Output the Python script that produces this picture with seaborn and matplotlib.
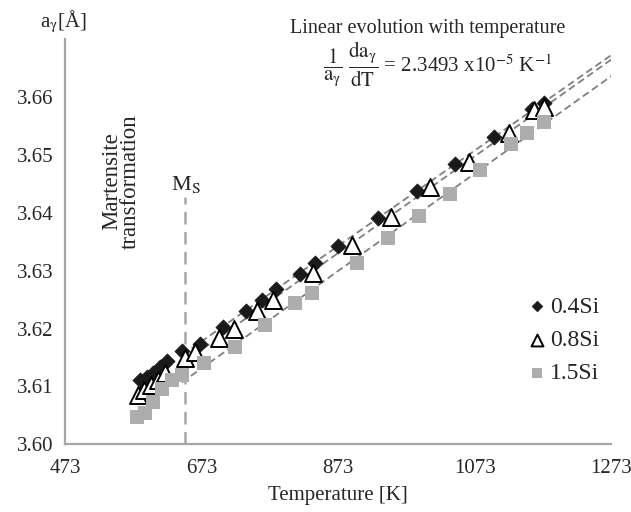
import numpy as np
import pandas as pd
import matplotlib
matplotlib.use('Agg')
import matplotlib.pyplot as plt
import seaborn as sns
from matplotlib.ticker import MultipleLocator

# lattice parameter of austenite vs temperature
temp_04 = [583, 593, 602, 612, 622, 645, 670, 704, 738, 761, 782, 817, 839, 873, 931, 988, 1044, 1101, 1157, 1174]
a_04 = [3.6111, 3.6117, 3.6124, 3.6133, 3.6144, 3.6161, 3.6174, 3.6203, 3.6230, 3.6249, 3.6268, 3.6295,
        3.6314, 3.6342, 3.6390, 3.6437, 3.6484, 3.6531, 3.6579, 3.6590]

temp_08 = [580, 589, 599, 609, 620, 649, 664, 698, 720, 754, 777, 836, 893, 950, 1008, 1064, 1123, 1160, 1175]
a_08 = [3.6085, 3.6094, 3.6102, 3.6111, 3.6123, 3.6149, 3.6159, 3.6184, 3.6200, 3.6230, 3.6250, 3.6296,
        3.6344, 3.6393, 3.6445, 3.6488, 3.6537, 3.6578, 3.6582]

temp_15 = [578, 590, 602, 615, 630, 644, 676, 722, 766, 810, 835, 900, 946, 991, 1036, 1081, 1126, 1149, 1174]
a_15 = [3.6048, 3.6054, 3.6074, 3.6095, 3.6112, 3.6120, 3.6141, 3.6169, 3.6206, 3.6244, 3.6261, 3.6314,
        3.6357, 3.6394, 3.6433, 3.6474, 3.6519, 3.6538, 3.6557]

ms_temp = 648
ms_top = 3.6427
fit_start = 640
fit_end = 1273

sns.set_style('white')
plt.rcParams['font.family'] = ['Liberation Serif', 'DejaVu Serif']
plt.rcParams['mathtext.fontset'] = 'stix'

fig = plt.figure(figsize=(6.31, 5.12), dpi=100)
ax = fig.add_axes([0.103, 0.132, 0.866, 0.792])

series = [
    ('0.4Si', temp_04, a_04, dict(marker='D', s=60, color='#1a1a1a', edgecolor='#1a1a1a', linewidth=0.5)),
    ('0.8Si', temp_08, a_08, dict(marker='^', s=150, facecolor='white', edgecolor='black', linewidth=1.4)),
    ('1.5Si', temp_15, a_15, dict(marker='s', s=110, color='#adadad', edgecolor='#adadad', linewidth=0)),
]

# linear fits above Ms
for name, t, a, kw in series:
    df = pd.DataFrame({'T': t, 'a': a})
    hi = df[df['T'] >= fit_start]
    k, b = np.polyfit(hi['T'], hi['a'], 1)
    xs = np.array([hi['T'].min(), fit_end])
    ax.plot(xs, k * xs + b, color='#7f7f7f', lw=1.3, dashes=(4, 2.2), zorder=1)

for name, t, a, kw in series:
    sns.scatterplot(x=t, y=a, ax=ax, label=name, zorder=3, **kw)

ax.plot([ms_temp, ms_temp], [3.60, ms_top], color='#a6a6a6', lw=1.8, dashes=(5, 3), zorder=0)

ax.set_xlim(473, 1273)
ax.set_ylim(3.60, 3.67)
ax.set_xticks([473, 673, 873, 1073, 1273])
ax.xaxis.set_minor_locator(MultipleLocator(40))
ax.set_yticks([3.60, 3.61, 3.62, 3.63, 3.64, 3.65, 3.66, 3.67])
ax.set_yticklabels(['3.60', '3.61', '3.62', '3.63', '3.64', '3.65', '3.66', ''])
ax.yaxis.set_minor_locator(MultipleLocator(0.002))

for side in ['top', 'right']:
    ax.spines[side].set_visible(False)
for side in ['left', 'bottom']:
    ax.spines[side].set_color('#a6a6a6')
    ax.spines[side].set_linewidth(1.6)
ax.tick_params(which='major', direction='inout', length=9, width=1.3, color='#a6a6a6',
               labelsize=15, pad=4)
ax.tick_params(which='minor', direction='in', length=4, width=1.3, color='#a6a6a6')
ax.tick_params(axis='x', which='major', pad=6)

ax.set_xlabel('Temperature [K]', fontsize=15, labelpad=6)
ax.set_ylabel('')
fig.text(0.101, 0.957, r'a$_\mathrm{\gamma}$[Å]', fontsize=15, ha='center', va='center')

fig.text(0.678, 0.945, 'Linear evolution with temperature', fontsize=14.5, ha='center', va='center')
fig.text(0.6925, 0.876,
         r'$\dfrac{\mathrm{1}}{\mathrm{a_{\gamma}}}\ \dfrac{\mathrm{da_{\gamma}}}{\mathrm{dT}}$'
         r' = 2.3493 x10$^{\mathrm{-5}}$ K$^{\mathrm{-1}}$',
         fontsize=15, ha='center', va='center')

ax.text(555, 3.6454, 'Martensite\ntransformation', rotation=90, fontsize=16.5,
        ha='center', va='center', linespacing=0.9)
ax.text(650, 3.6430, r'M$_\mathrm{S}$', fontsize=16, ha='center', va='bottom')

leg = ax.legend(loc='center left', bbox_to_anchor=(0.829, 0.257), frameon=False, fontsize=17,
                handlelength=0.8, handletextpad=0.15, labelspacing=0.5, markerscale=0.7,
                borderaxespad=0)

fig.savefig('out.png', dpi=100)
